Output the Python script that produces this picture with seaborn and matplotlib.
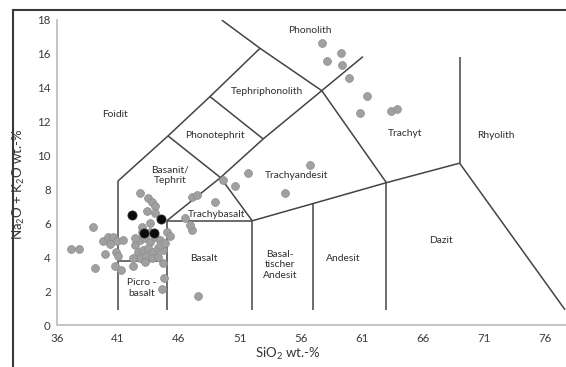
import matplotlib
matplotlib.use("Agg")
import matplotlib.pyplot as plt
import matplotlib.patches as mpatches
import seaborn as sns
import pandas as pd

# sample analyses (SiO2 wt.-%, Na2O+K2O wt.-%)
grey_sio2 = [37.15, 37.78, 38.93, 39.11, 39.75, 40.16, 40.59, 40.92, 40.34, 39.93,
             40.84, 41.02, 40.75, 41.22, 41.39, 42.2, 42.8, 43.48, 43.76, 44.03,
             43.38, 44.03, 43.62, 42.94, 44.66, 44.77, 44.58, 44.99, 45.26, 47.04,
             47.04, 47.45, 48.95, 47.58, 46.49, 46.9, 49.63, 50.59, 51.68, 54.69,
             56.74, 57.7, 59.28, 58.16, 59.4, 59.93, 61.38, 60.84, 63.35, 63.9,
             42.39, 42.8, 43.21, 43.62, 44.03, 44.43, 42.64, 43.05, 43.46, 43.87,
             44.28, 44.69, 42.8, 43.3, 43.79, 44.28, 42.23, 43.21, 44.43, 42.39,
             43.62, 42.97, 44.85]
grey_alk = [4.47, 4.47, 5.8, 3.38, 4.96, 5.21, 5.21, 4.96, 4.78, 4.17,
            4.33, 4.07, 3.48, 3.25, 5.02, 3.48, 7.79, 7.48, 7.26, 7.02,
            6.73, 6.59, 6.02, 5.8, 3.68, 2.76, 2.13, 5.51, 5.25, 5.61,
            7.57, 7.67, 7.28, 1.71, 6.3, 5.9, 8.56, 8.21, 8.96, 7.77,
            9.45, 16.66, 16.07, 15.6, 15.35, 14.56, 13.54, 12.53, 12.65, 12.73,
            4.72, 5.02, 5.14, 4.9, 5.19, 5.02, 4.31, 4.43, 4.55, 4.31,
            4.55, 4.43, 3.96, 4.07, 3.96, 4.01, 3.96, 3.72, 4.72, 5.14,
            5.49, 5.49, 4.84]
black_sio2 = [42.17, 44.5, 43.13, 43.95]
black_alk = [6.49, 6.24, 5.41, 5.41]

# field boundaries (polylines in diagram units)
boundaries = [
    [(41, 0.9), (41, 8.5)],
    [(45, 0.9), (45, 6.15)],
    [(41, 3.8), (45, 3.8)],
    [(41, 8.5), (45.1, 11.16), (48.54, 13.48), (52.64, 16.33)],
    [(49.5, 18.0), (52.64, 16.33), (57.7, 13.83)],
    [(45, 6.15), (49.4, 8.7), (52.9, 10.98), (57.7, 13.83), (61.08, 15.84)],
    [(45.1, 11.16), (49.4, 8.7), (52, 6.15)],
    [(45, 6.15), (52, 6.15)],
    [(48.54, 13.48), (52.9, 10.98)],
    [(52, 0.9), (52, 6.15)],
    [(52, 6.15), (57, 7.17), (63, 8.4), (69, 9.55)],
    [(57, 0.9), (57, 7.17)],
    [(63, 0.9), (63, 8.4)],
    [(57.7, 13.83), (63, 8.4)],
    [(69, 9.55), (69, 15.8)],
    [(69, 9.55), (77.64, 0.9)],
]

field_names = ["Foidit", "Phonolith", "Tephriphonolith", "Phonotephrit", "Basanit/\nTephrit",
               "Trachybasalt", "Trachyandesit", "Trachyt", "Rhyolith", "Basalt",
               "Basal-\ntischer\nAndesit", "Andesit", "Dazit", "Picro -\nbasalt"]
field_x = [40.75, 56.74, 53.2, 48.95, 45.3, 49.1, 55.6, 64.5, 72.0, 48.0, 54.3, 59.5, 67.5, 42.95]
field_y = [12.4, 17.36, 13.77, 11.2, 8.85, 6.55, 8.85, 11.33, 11.2, 3.95, 3.55, 3.94, 5.0, 2.2]

x_ticks = [36, 41, 46, 51, 56, 61, 66, 71, 76]
y_ticks = [0, 2, 4, 6, 8, 10, 12, 14, 16, 18]

sns.set_style("white")
plt.rcParams['font.family'] = ['Lato', 'DejaVu Sans']
plt.rcParams['mathtext.fontset'] = 'custom'
plt.rcParams['mathtext.rm'] = 'Lato'
plt.rcParams['mathtext.it'] = 'Lato'

fig = plt.figure(figsize=(5.66, 3.67), dpi=100)
ax = fig.add_axes([57 / 566, 42 / 367, 509 / 566, 305 / 367])

for line in boundaries:
    xs, ys = zip(*line)
    ax.plot(xs, ys, color='#444444', lw=1.1, solid_capstyle='butt', zorder=2)

pts = pd.DataFrame({'SiO2': grey_sio2, 'alk': grey_alk})
sns.scatterplot(data=pts, x='SiO2', y='alk', s=32, color='#a0a0a0',
                edgecolor='#8c8c8c', linewidth=0.5, ax=ax, zorder=3)
blk = pd.DataFrame({'SiO2': black_sio2, 'alk': black_alk})
sns.scatterplot(data=blk, x='SiO2', y='alk', s=44, color='#0a0a0a',
                edgecolor='#333333', linewidth=0.5, ax=ax, zorder=4)

for name, fx, fy in zip(field_names, field_x, field_y):
    ax.text(fx, fy, name, ha='center', va='center', fontsize=7.4,
            color='#2e2e2e', linespacing=1.25, zorder=5)

ax.set_xlim(36, 77.72)
ax.set_ylim(0, 18)
ax.set_xticks(x_ticks)
ax.set_yticks(y_ticks)
ax.tick_params(axis='both', direction='out', length=2.5, width=0.8,
               color='#bbbbbb', labelsize=8.3, labelcolor='#3a3a3a')
ax.tick_params(axis='x', pad=3)
ax.tick_params(axis='y', pad=2)
for side in ['top', 'right']:
    ax.spines[side].set_visible(False)
for side in ['left', 'bottom']:
    ax.spines[side].set_color('#c4c4c4')
    ax.spines[side].set_linewidth(1.4)

ax.set_xlabel('SiO$_2$ wt.-%', fontsize=9.5, color='#333333')
ax.set_ylabel('Na$_2$O + K$_2$O wt.-%', fontsize=9.5, color='#333333')
ax.xaxis.set_label_coords(0.454, -0.07)
ax.yaxis.set_label_coords(-0.058, 0.46)

# frame of the original figure panel
fig.add_artist(mpatches.Rectangle((13 / 566, -0.1), 1.2, 1.1 - 10 / 367,
                                  transform=fig.transFigure, fill=False,
                                  ec='#3a3a3a', lw=1.5))

fig.savefig('out.png', dpi=100)
